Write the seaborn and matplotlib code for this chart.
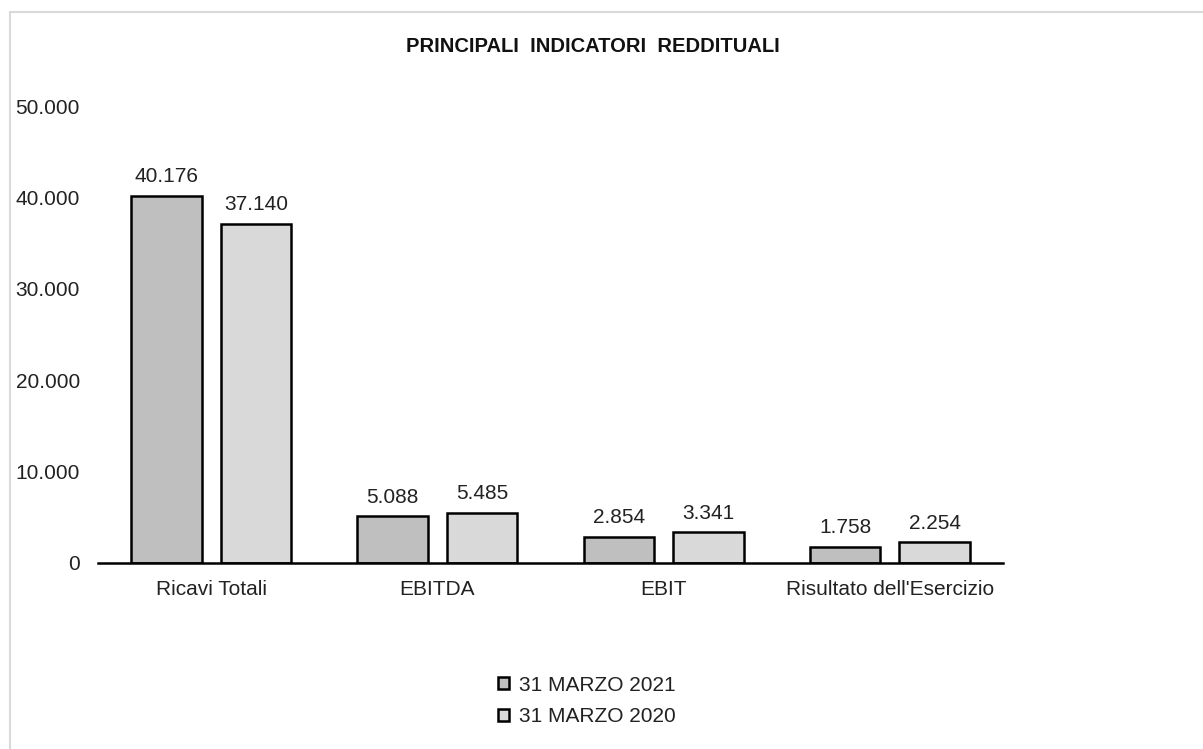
import numpy as np
import pandas as pd
import matplotlib.pyplot as plt
import matplotlib.patches as mpatches
import seaborn as sns

# ==========================================
# Data
# ==========================================
categories = ["Ricavi Totali", "EBITDA", "EBIT", "Risultato dell'Esercizio"]
periods = ["31 MARZO 2021", "31 MARZO 2020"]
values_2021 = [40176, 5088, 2854, 1758]
values_2020 = [37140, 5485, 3341, 2254]
y_ticks = [0, 10000, 20000, 30000, 40000, 50000]
colors = ["#BFBFBF", "#D9D9D9"]

df = pd.DataFrame({
    "categoria": categories * 2,
    "periodo": [periods[0]] * len(categories) + [periods[1]] * len(categories),
    "valore": values_2021 + values_2020,
})

def it_format(v):
    return f"{v:,.0f}".replace(",", ".")

# ==========================================
# Plot
# ==========================================
sns.set_style("white")
plt.rcParams["font.family"] = ["Liberation Sans", "DejaVu Sans"]

W, H = 1203, 749
fig = plt.figure(figsize=(W / 100, H / 100), dpi=100)
ax = fig.add_axes([98 / W, 1 - 563 / H, (1003 - 98) / W, (563 - 106) / H])

sns.barplot(data=df, x="categoria", y="valore", hue="periodo",
            palette=colors, edgecolor="black", linewidth=1.8,
            width=0.79, gap=0.21, ax=ax, legend=False)

for cont in ax.containers:
    ax.bar_label(cont, labels=[it_format(v) for v in cont.datavalues],
                 padding=7, fontsize=15, color="#222222")

ax.set_ylim(0, 50000)
ax.set_yticks(y_ticks)
ax.set_yticklabels([it_format(v) for v in y_ticks])
ax.set_xlim(-0.5, 3.5)
ax.set_xlabel("")
ax.set_ylabel("")
ax.tick_params(axis="y", length=0, pad=13, labelsize=15, labelcolor="#222222")
ax.tick_params(axis="x", length=0, pad=12, labelsize=15, labelcolor="#222222")

for side in ["top", "right", "left"]:
    ax.spines[side].set_visible(False)
ax.spines["bottom"].set_color("black")
ax.spines["bottom"].set_linewidth(1.8)

# title
fig.text(593 / W, 1 - 47 / H, "PRINCIPALI  INDICATORI  REDDITUALI",
         ha="center", va="center", fontsize=14.5, fontweight="bold", color="#111111")

# legend
handles = [mpatches.Patch(facecolor=c, edgecolor="black", linewidth=1.8) for c in colors]
fig.legend(handles, periods, loc="center", bbox_to_anchor=(587 / W, 1 - 701 / H),
           frameon=False, fontsize=15, handlelength=0.5, handleheight=0.5,
           handletextpad=0.5, labelspacing=0.6, labelcolor="#222222")

# outer border of the chart area
border = mpatches.Rectangle((10 / W, -0.1), 1.2, 1.1 - 12 / H, transform=fig.transFigure,
                            fill=False, edgecolor="#D9D9D9", linewidth=1.5)
fig.patches.append(border)

fig.savefig("out.png", dpi=100)
